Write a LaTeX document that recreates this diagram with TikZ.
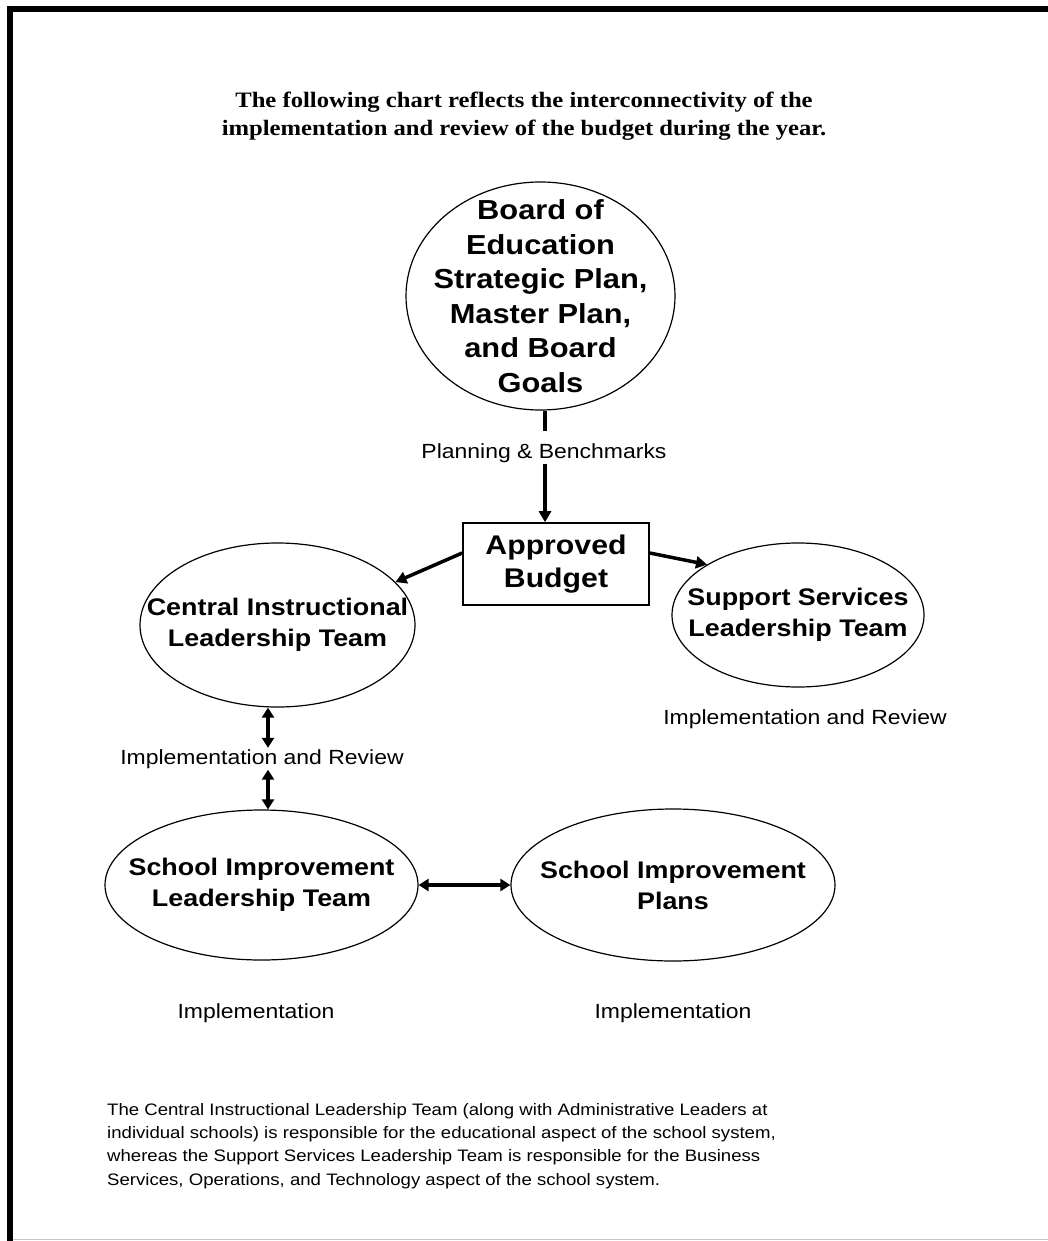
\documentclass[tikz,border=0pt]{standalone}
\usepackage{fontspec}
\setmainfont[FakeStretch=1.12]{Liberation Sans}
\newfontfamily\titlefont[FakeStretch=1.12]{Liberation Serif}
\usetikzlibrary{shapes.geometric,arrows.meta}

\begin{document}
\begin{tikzpicture}[x=1pt,y=-1pt,
bulle/.style={draw,ellipse,line width=1.2pt,inner xsep=-40pt,inner ysep=-20pt,align=center,
  font=\fontsize{24}{31}\selectfont\bfseries},
boite/.style={draw,rectangle,line width=1.6pt,inner sep=0pt,align=center,
  font=\fontsize{27}{33}\selectfont\bfseries},
legende/.style={anchor=base,inner xsep=2pt,inner ysep=1pt,text height=15pt,text depth=4.5pt,
  font=\fontsize{20.5}{24}\selectfont},
trait/.style={line width=3.5pt},
flow/.style={line width=3.5pt,-{Triangle[length=11pt,width=12pt]}},
twoway/.style={line width=3.5pt,{Triangle[length=10pt,width=12pt]}-{Triangle[length=10pt,width=12pt]}},
]
\useasboundingbox (0,0) rectangle (1048,1241);
% cadre de la page
\fill (7,6) rectangle (1048,12);
\fill (7,6) rectangle (13,1241);
\draw[gray!45,line width=1pt] (13,1239.5) -- (1048,1239.5);

\node[anchor=north,inner sep=0pt,align=center,font=\titlefont\fontsize{22}{28}\selectfont\bfseries] (titre) at (524,92)
  {The following chart reflects the interconnectivity of the\\implementation and review of the budget during the year.};

% les bulles
\node[bulle,minimum width=269pt,minimum height=228pt,font=\fontsize{27.5}{34.5}\selectfont\bfseries] (board) at (540.5,296)
  {Board of\\Education\\Strategic Plan,\\Master Plan,\\and Board\\Goals};
\node[boite,minimum width=186pt,minimum height=82pt] (budget) at (556,564) {Approved\\Budget};
\node[bulle,minimum width=275pt,minimum height=164pt] (cilt) at (277.5,625) {Central Instructional\\Leadership Team};
\node[bulle,minimum width=252pt,minimum height=144pt] (ssl) at (798,615) {Support Services\\Leadership Team};
\node[bulle,minimum width=313pt,minimum height=150pt] (silt) at (261.5,885) {School Improvement\\Leadership Team};
\node[bulle,minimum width=324pt,minimum height=152pt] (sip) at (673,885) {School Improvement\\Plans};

% les legendes
\node[legende] (plan) at (544,458) {Planning \& Benchmarks};
\node[legende] (ilr) at (262,764) {Implementation and Review};
\node[legende] (ssr) at (805,724) {Implementation and Review};
\node[legende] (impl1) at (256,1018) {Implementation};
\node[legende] (impl2) at (673,1018) {Implementation};

\node[anchor=north west,inner sep=0pt,align=left,font=\fontsize{16.6}{23.3}\selectfont] (texte) at (107,1103)
  {The Central Instructional Leadership Team (along with Administrative Leaders at\\
   individual schools) is responsible for the educational aspect of the school system,\\
   whereas the Support Services Leadership Team is responsible for the Business\\
   Services, Operations, and Technology aspect of the school system.};

% les fleches
\coordinate (stub) at (545,431);
\coordinate (axe) at (268,700);
\draw[trait] (board.south -| stub) -- (stub);
\draw[flow] (plan.south -| stub) -- (budget.north -| stub);
\draw[flow] ([yshift=11pt]budget.west) -- (cilt.20);
\draw[flow] ([yshift=11pt]budget.east) -- (ssl.151);
\draw[twoway] (cilt.south -| axe) -- (ilr.north -| axe);
\draw[twoway] (ilr.south -| axe) -- (silt.north -| axe);
\draw[twoway] (silt.east) -- (sip.west);
\end{tikzpicture}
\end{document}
